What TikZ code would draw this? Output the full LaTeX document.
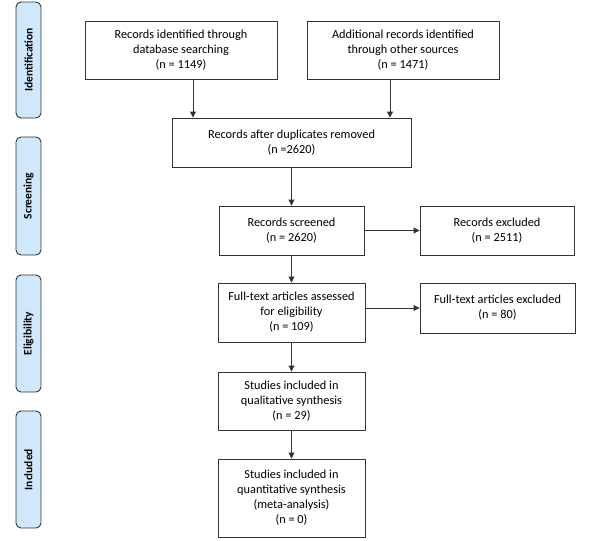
\documentclass[tikz,border=0pt]{standalone}
\usepackage{fontspec}
\setmainfont{Carlito}
\usetikzlibrary{arrows.meta}
\usetikzlibrary{calc}
\definecolor{bandblue}{RGB}{207,232,252}
\tikzset{b/.style={draw=black!80,line width=0.9pt,inner sep=0pt,align=center,font=\fontsize{12.3}{15}\selectfont}}
\tikzset{s/.style={draw=black!80,fill=bandblue,line width=0.9pt,rounded corners=5pt,inner sep=0pt,minimum height=25,rotate=90,font=\bfseries\fontsize{11.5}{13}\selectfont}}
\tikzset{>={Triangle[length=6pt,width=6pt]}}

\begin{document}
\begin{tikzpicture}[x=1pt,y=-1pt]
          \useasboundingbox (0,0) rectangle (595,541);
          \node [s, minimum width=116] (idf) at (28.5,60) {Identification};
          \node [s, minimum width=118] (scn) at (28.5,196) {Screening};
          \node [s, minimum width=117] (elg) at (28.5,333.5) {Eligibility};
          \node [s, minimum width=117] (inc) at (28.5,469.5) {Included};
          \node [b, minimum width=192, minimum height=58] (rec1) at (181,50)
            {Records identified through\\database searching\\(n = 1149)};
          \node [b, minimum width=192, minimum height=58] (rec2) at (403,50)
            {Additional records identified\\through other sources\\(n = 1471)};
          \node [b, minimum width=239, minimum height=49] (dup) at (291.5,142.5)
            {Records after duplicates removed\\(n =2620)};
          \coordinate (r1) at ($(rec1.south)+(12,0)$);
          \coordinate (r2) at ($(rec2.south)+(-13,0)$);
          \draw [->, black!80, line width=0.9pt] (r1) -- (r1 |- dup.north);
          \draw [->, black!80, line width=0.9pt] (r2) -- (r2 |- dup.north);
          \node [b, minimum width=145, minimum height=49] (scr) at (291.5,230.5)
            {Records screened\\(n = 2620)}
            edge [<-, black!80, line width=0.9pt] (dup);
          \node [b, minimum width=154, minimum height=49] (exc) at (497,230.5)
            {Records excluded\\(n = 2511)}
            edge [<-, black!80, line width=0.9pt] (scr);
          \node [b, minimum width=147, minimum height=59] (ft) at (291.5,312.5)
            {Full-text articles assessed\\for eligibility\\(n = 109)}
            edge [<-, black!80, line width=0.9pt] (scr);
          \node [b, minimum width=155, minimum height=50] (ftexc) at (497.5,308)
            {Full-text articles excluded\\(n = 80)};
          \draw [->, black!80, line width=0.9pt] (ft.east |- ftexc) -- (ftexc.west);
          \node [b, minimum width=147, minimum height=58] (qual) at (291.5,401)
            {Studies included in\\qualitative synthesis\\(n = 29)}
            edge [<-, black!80, line width=0.9pt] (ft);
          \node [b, minimum width=147, minimum height=78] (quant) at (291.5,498)
            {Studies included in\\quantitative synthesis\\(meta-analysis)\\(n = 0)}
            edge [<-, black!80, line width=0.9pt] (qual);
        \end{tikzpicture}
\end{document}
